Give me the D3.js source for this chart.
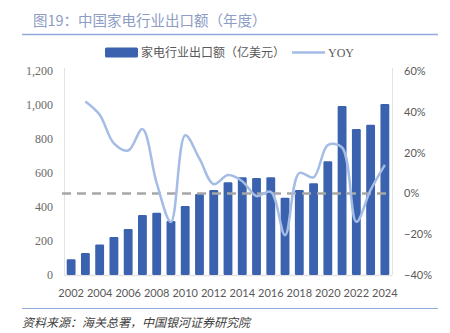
<!DOCTYPE html>
<html><head><meta charset="utf-8">
<script src="https://cdn.jsdelivr.net/npm/d3@7"></script>
<style>body{margin:0;background:#fff;}svg{display:block;font-family:"Noto Sans CJK SC","Noto Sans",sans-serif;}</style>
</head><body><svg id="c" width="450" height="333"></svg>
<script>
const years = ["2002","2003","2004","2005","2006","2007","2008","2009","2010","2011","2012","2013","2014","2015","2016","2017","2018","2019","2020","2021","2022","2023","2024"];
const exportValue = [92,129,180,223,270,353,366,318,406,476,500,545,575,570,575,455,500,539,669,994,859,884,1006];
const yoyYears = ["2003","2004","2005","2006","2007","2008","2009","2010","2011","2012","2013","2014","2015","2016","2017","2018","2019","2020","2021","2022","2023","2024"];
const yoyValue = [0.45,0.385,0.245,0.21,0.315,0.05,-0.14,0.285,0.17,0.045,0.09,0.06,-0.013,0.008,-0.205,0.10,0.079,0.237,0.225,-0.139,0.017,0.14];
const leftTicks = [0,200,400,600,800,1000,1200];
const rightTicks = [-0.4,-0.2,0,0.2,0.4,0.6];
const xTickLabels = ["2002","2004","2006","2008","2010","2012","2014","2016","2018","2020","2022","2024"];

const svg = d3.select("#c");
const L=64,R=392,T=71,B=275;
const x = d3.scaleBand().domain(years).range([L,R]).paddingInner(0.38).paddingOuter(0.19);
const yL = d3.scaleLinear().domain([0,1200]).range([B,T]);
const yR = d3.scaleLinear().domain([-0.4,0.6]).range([B,T]);

// title
svg.append("text").attr("x",33).attr("y",26).attr("font-size",14.5).attr("fill","#8d9dc4").text("图19：中国家电行业出口额（年度）");
svg.append("line").attr("x1",22).attr("x2",438).attr("y1",34.5).attr("y2",34.5).attr("stroke","#8faadc").attr("stroke-width",1.5);

// legend
svg.append("rect").attr("x",105).attr("y",47.5).attr("width",33).attr("height",10).attr("rx",1.5).attr("fill","#3a62ae");
svg.append("text").attr("x",141).attr("y",57).attr("font-size",12).attr("fill","#595959").text("家电行业出口额（亿美元）");
svg.append("line").attr("x1",292).attr("x2",325).attr("y1",52.5).attr("y2",52.5).attr("stroke","#a4bce6").attr("stroke-width",2.5);
svg.append("text").attr("x",328).attr("y",57).attr("font-size",12).attr("font-family","Liberation Serif, serif").attr("fill","#595959").text("YOY");

// axes lines
svg.append("line").attr("x1",L+0.5).attr("x2",L+0.5).attr("y1",T-3).attr("y2",B).attr("stroke","#e3e3e3");
svg.append("line").attr("x1",R+0.5).attr("x2",R+0.5).attr("y1",T-3).attr("y2",B).attr("stroke","#e3e3e3");
svg.append("line").attr("x1",L).attr("x2",R).attr("y1",B+0.5).attr("y2",B+0.5).attr("stroke","#e3e3e3").attr("stroke-width",1.5);

// left axis
const gl = svg.append("g").attr("transform",`translate(${L-11},0)`)
  .call(d3.axisLeft(yL).tickValues(leftTicks).tickSize(0).tickPadding(0).tickFormat(d3.format(",")));
gl.select(".domain").remove();
gl.selectAll("text").attr("font-size",12).attr("fill","#6a6a6a").attr("font-family","Liberation Serif, serif");

// right axis
const gr = svg.append("g").attr("transform",`translate(${R+12},0)`)
  .call(d3.axisRight(yR).tickValues(rightTicks).tickSize(0).tickPadding(0).tickFormat(d3.format(".0%")));
gr.select(".domain").remove();
gr.selectAll("text").attr("font-size",11).attr("fill","#595959").attr("font-family","Lato, sans-serif");

// x axis
const gx = svg.append("g").attr("transform",`translate(0,${B+14})`)
  .call(d3.axisBottom(x).tickValues(xTickLabels).tickSize(0).tickPadding(0));
gx.select(".domain").remove();
gx.selectAll("text").attr("font-size",11).attr("fill","#595959").attr("font-family","Lato, sans-serif");

// bars
svg.append("g").selectAll("rect").data(years).join("rect")
  .attr("x",d=>x(d)).attr("width",x.bandwidth())
  .attr("y",(d,i)=>yL(exportValue[i])).attr("height",(d,i)=>B-yL(exportValue[i]))
  .attr("rx",1.2).attr("fill","#3a62ae");

// dashed zero line
svg.append("line").attr("x1",L-2).attr("x2",R).attr("y1",yR(0)).attr("y2",yR(0))
  .attr("stroke","#a6a6a6").attr("stroke-width",2.5).attr("stroke-dasharray","9,6");

// yoy line
const line = d3.line().x((d,i)=>x(yoyYears[i])+x.bandwidth()/2).y(d=>yR(d)).curve(d3.curveCatmullRom.alpha(0.5));
svg.append("path").datum(yoyValue).attr("d",line).attr("fill","none").attr("stroke","#a4bce6").attr("stroke-width",2.5);

// footer
svg.append("line").attr("x1",22).attr("x2",438).attr("y1",308.5).attr("y2",308.5).attr("stroke","#8faadc").attr("stroke-width",1.2);
svg.append("text").attr("x",22).attr("y",327).attr("font-size",12).attr("font-style","italic").attr("fill","#404040").text("资料来源：海关总署，中国银河证券研究院");
</script></body></html>
